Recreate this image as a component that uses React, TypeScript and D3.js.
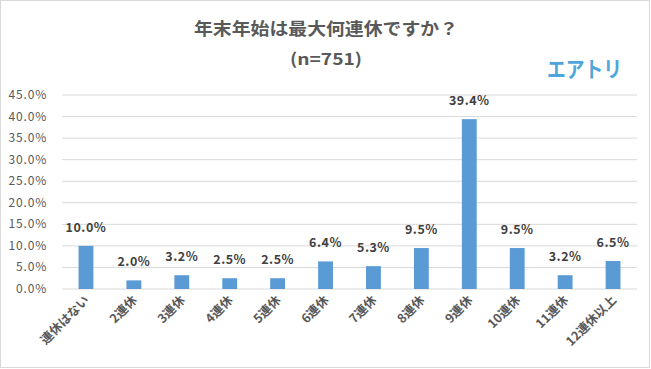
import React from "react";
import * as d3 from "d3";

const categories = ["連休はない", "2連休", "3連休", "4連休", "5連休", "6連休", "7連休", "8連休", "9連休", "10連休", "11連休", "12連休以上"];
const values = [10.0, 2.0, 3.2, 2.5, 2.5, 6.4, 5.3, 9.5, 39.4, 9.5, 3.2, 6.5];
const yTicks = [0, 5, 10, 15, 20, 25, 30, 35, 40, 45];

const W = 651;
const H = 369;
const margin = { top: 95, right: 14, bottom: 80, left: 62 };
const font = "'Meiryo', 'Noto Sans CJK JP', sans-serif";

export default function App() {
  const x = d3.scaleBand<string>()
    .domain(categories)
    .range([margin.left, W - margin.right])
    .paddingInner(0.69)
    .paddingOuter(0.345);
  const y = d3.scaleLinear().domain([0, 45]).range([H - margin.bottom, margin.top]);

  return (
    <svg width={W} height={H} style={{ position: "absolute", left: 0, top: 0, fontFamily: font }}>
      <rect x={0.5} y={0.5} width={W - 2} height={H - 2} fill="#fff" stroke="#d9d9d9" />
      <text x={326} y={35} textAnchor="middle" fontSize={17} fontWeight="bold" fill="#595959" textLength={264} lengthAdjust="spacingAndGlyphs">
        年末年始は最大何連休ですか？
      </text>
      <text x={326} y={65} textAnchor="middle" fontSize={16} fontWeight="bold" fill="#595959" textLength={72} lengthAdjust="spacingAndGlyphs">
        (n=751)
      </text>
      <text x={547} y={77} fontSize={22} fontWeight="bold" fill="#4ea6dc" textLength={75} lengthAdjust="spacingAndGlyphs">
        エアトリ
      </text>
      {yTicks.map(t => (
        <g key={t}>
          <line x1={margin.left} x2={W - margin.right} y1={y(t)} y2={y(t)} stroke="#d9d9d9" strokeWidth={1} />
          <text x={47} y={y(t) + 4} textAnchor="end" fontSize={12} fill="#595959" letterSpacing={0.8}>
            {t.toFixed(1)}%
          </text>
        </g>
      ))}
      {categories.map((c, i) => (
        <g key={c}>
          <rect x={x(c)} y={y(values[i])} width={x.bandwidth()} height={y(0) - y(values[i])} fill="#5b9bd5" />
          <text x={x(c)! + x.bandwidth() / 2} y={y(values[i]) - 14} textAnchor="middle" fontSize={12.5} fontWeight="bold" fill="#404040" letterSpacing={0.5}>
            {values[i].toFixed(1)}%
          </text>
          <text
            transform={`translate(${x(c)! + x.bandwidth() / 2 + 4},${y(0) + 12}) rotate(-45)`}
            textAnchor="end"
            fontSize={12.5}
            fontWeight="bold"
            fill="#595959"
          >
            {c}
          </text>
        </g>
      ))}
    </svg>
  );
}
